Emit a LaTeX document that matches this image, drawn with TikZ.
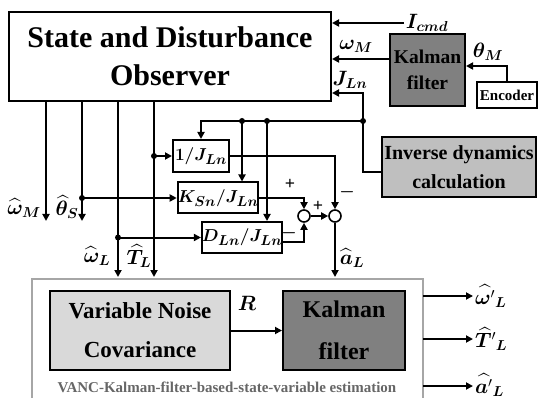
\documentclass[tikz,border=0pt]{standalone}
\usepackage{fontspec}
\setmainfont{Liberation Serif}
\usepackage{amsmath}
\usepackage{bm}
\usetikzlibrary{positioning}
\usetikzlibrary{calc}
\usetikzlibrary{arrows.meta}

\begin{document}
\begin{tikzpicture}[x=1pt, y=-1pt, line width=2pt,
    >={Triangle[length=7pt,width=7pt]},
    blk/.style={draw, line width=2pt, inner sep=0pt, align=center, font=\bfseries\fontsize{20}{26}\selectfont},
    mblk/.style={blk, font=\fontsize{19}{20}\selectfont},
    mlbl/.style={inner sep=1pt, font=\fontsize{20}{22}\selectfont},
    sgn/.style={inner sep=0pt, font=\bfseries\fontsize{18}{18}\selectfont},
    dot/.style={circle, fill, inner sep=0pt, minimum size=6pt},
    sumj/.style={circle, draw, line width=1.6pt, inner sep=0pt, minimum size=12pt}]
    \useasboundingbox (0,0) rectangle (538,398);

    % Observer and measurement side
    \node[blk, minimum width=322pt, minimum height=89pt, font=\bfseries\fontsize{30}{38}\selectfont] (obs) at (170,56.5) {State and Disturbance\\Observer};
    \node[blk, fill=black!50, minimum width=75pt, minimum height=72pt, font=\bfseries\fontsize{19.5}{26}\selectfont] (kf1) at (427.5,70) {Kalman\\filter};
    \node[blk, minimum width=60pt, minimum height=26pt, font=\bfseries\fontsize{15}{17}\selectfont] (enc) at (507,95) {Encoder};
    \node[blk, fill=black!25, minimum width=154pt, minimum height=60pt, font=\bfseries\fontsize{20}{29}\selectfont] (inv) at (459,167) {Inverse dynamics\\calculation};

    \node[mlbl] (icmd) at (427,23) {$\bm{I_{cmd}}$};
    \node[mlbl] (wml) at (356,46) {$\bm{\omega_M}$};
    \node[mlbl] (thm) at (488,52) {$\bm{\theta_M}$};
    \node[mlbl] (jl) at (350,80) {$\bm{J_{Ln}}$};
    \draw[->] (icmd.west) -- (icmd.west -| obs.east);
    \draw[->] ([yshift=11pt]kf1.west) -- ([yshift=11pt]kf1.west -| obs.east);
    \draw[->] (enc.north) |- ([yshift=4pt]kf1.east);

    % Inverse dynamics feedback
    \coordinate (jin) at (363,93);
    \coordinate (jn) at (363,121);
    \coordinate (ja) at (242,121);
    \coordinate (jb) at (267,121);
    \draw[->] ([yshift=-5pt]inv.west) -| (jin) -- (jin -| obs.east);

    % Gain blocks and summing junctions
    \node[mblk, minimum width=56pt, minimum height=32pt] (b1) at (201,156) {$\bm{1/J_{Ln}}$};
    \node[mblk, minimum width=72pt, minimum height=31pt] (b2) at (218,198) {$\bm{K_{Sn}/J_{Ln}}$};
    \node[mblk, minimum width=72pt, minimum height=31pt] (b3) at (242,237.5) {$\bm{D_{Ln}/J_{Ln}}$};
    \node[sumj] (s1) at (304,216) {};
    \node[sumj] (s2) at (335,216) {};
    \draw[->] (jn) node[dot] (d0) {} -| (b1.north);
    \draw[->] (ja) node[dot] (da) {} -- (ja |- b2.north);
    \draw[->] (jb) node[dot] (db) {} -- (jb |- b3.north);
    \draw[->] (b1.east) -| (s2.north);
    \draw[->] (b2.east) -| (s1.north);
    \draw[->] ([yshift=-4pt]b3.east) -| (s1.south);
    \draw[->] (s1) -- (s2);
    \node[sgn] (p1) at (290,184) {+};
    \node[sgn] (m1) at (289,233) {$\bm{-}$};
    \node[sgn] (p2) at (318,206) {+};
    \node[sgn] (m2) at (347,192) {$\bm{-}$};

    % Observer outputs
    \coordinate (ctop) at (32,277);
    \coordinate (wm) at (46,221);
    \coordinate (ths) at (82,221);
    \coordinate (wl) at (118,277);
    \coordinate (tl) at (154,277);
    \draw[->] (obs.south -| wm) -- (wm);
    \draw[->] (obs.south -| ths) -- (ths);
    \draw[->] (obs.south -| wl) -- (wl);
    \draw[->] (obs.south -| tl) -- (tl);
    \draw[->] (tl |- b1.west) node[dot] (d1) {} -- (b1.west);
    \draw[->] (ths |- b2.west) node[dot] (d2) {} -- (b2.west);
    \draw[->] (wl |- b3.west) node[dot] (d3) {} -- (b3.west);
    \draw[->] (s2.south) -- (s2 |- ctop);
    \node[mlbl] (wmh) at (24,208) {$\widehat{\bm{\omega}}_{\bm{M}}$};
    \node[mlbl] (thh) at (67,207) {$\widehat{\bm{\theta}}_{\bm{S}}$};
    \node[mlbl] (wlh) at (97,256) {$\widehat{\bm{\omega}}_{\bm{L}}$};
    \node[mlbl] (tlh) at (139,256) {$\widehat{\bm{T}}_{\bm{L}}$};
    \node[mlbl] (alh) at (352,258) {$\widehat{\bm{a}}_{\bm{L}}$};

    % VANC Kalman filter estimation
    \draw[black!35, line width=2.5pt] (32,402) |- (423,279) -- (423,402);
    \node[blk, fill=black!15, minimum width=180pt, minimum height=79pt, font=\bfseries\fontsize{23}{39}\selectfont] (vnc) at (140,330.5) {Variable Noise\\Covariance};
    \node[blk, fill=black!50, minimum width=122pt, minimum height=79pt, font=\bfseries\fontsize{24}{42}\selectfont] (kf2) at (344,330.5) {Kalman\\filter};
    \draw[->] (vnc) -- (kf2);
    \node[mlbl] (rl) at (247,303) {$\bm{R}$};
    \node[font=\bfseries\fontsize{15}{17}\selectfont, text=black!60] (cap) at (227,387) {VANC-Kalman-filter-based-state-variable estimation};

    \coordinate (o1) at (423,296);
    \coordinate (o2) at (423,339);
    \coordinate (o3) at (423,386);
    \node[mlbl, anchor=west] (wlo) at (473,296) {$\widehat{\bm{\omega}'}{}_{\bm{L}}$};
    \node[mlbl, anchor=west] (tlo) at (473,339) {$\widehat{\bm{T}}'{}_{\bm{L}}$};
    \node[mlbl, anchor=west] (alo) at (473,385) {$\widehat{\bm{a}'}{}_{\bm{L}}$};
    \draw[->] (o1) -- (o1 -| wlo.west);
    \draw[->] (o2) -- (o2 -| tlo.west);
    \draw[->] (o3) -- (o3 -| alo.west);
\end{tikzpicture}
\end{document}
